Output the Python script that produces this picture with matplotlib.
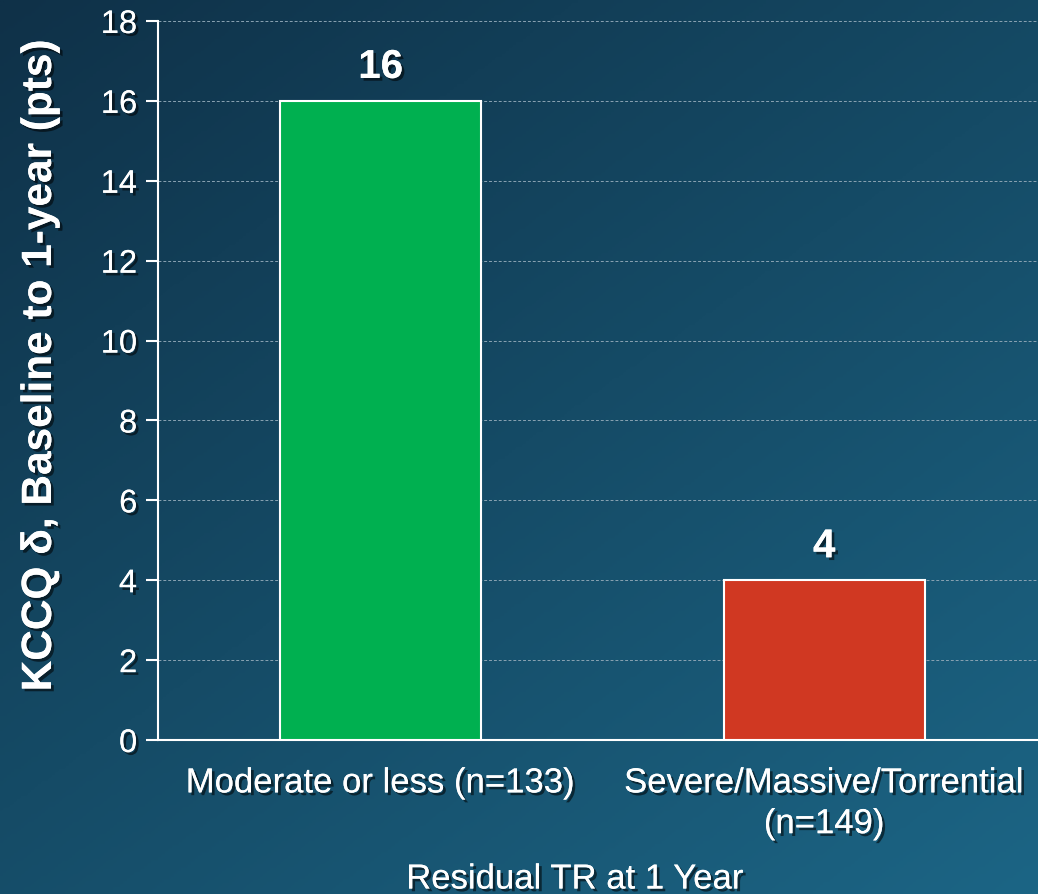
import numpy as np
import matplotlib
matplotlib.use("Agg")
import matplotlib.pyplot as plt
import matplotlib.patheffects as pe
from matplotlib.colors import LinearSegmentedColormap

categories = ["Moderate or less (n=133)", "Severe/Massive/Torrential\n(n=149)"]
values = [16, 4]
bar_colors = ["#00B050", "#D03822"]
yticks = [0, 2, 4, 6, 8, 10, 12, 14, 16, 18]
ylabel = "KCCQ δ, Baseline to 1-year (pts)"
xlabel = "Residual TR at 1 Year"

plt.rcParams['font.family'] = ['Liberation Sans', 'DejaVu Sans']

W, H = 1038, 894
fig = plt.figure(figsize=(W/100, H/100), dpi=100)

# gradient background
bg = fig.add_axes([0, 0, 1, 1], zorder=-10)
yy, xx = np.mgrid[0:1:300j, 0:1:300j]
t = 0.55 * yy + 0.45 * xx
cmap = LinearSegmentedColormap.from_list("bg", ["#0f3148", "#154b66", "#1c6585"])
bg.imshow(t, cmap=cmap, aspect='auto', extent=[0, 1, 0, 1], origin='upper', vmin=0, vmax=1)
bg.axis('off')

shadow = [pe.withSimplePatchShadow(offset=(2, -2), shadow_rgbFace='black', alpha=0.55), pe.Normal()]

x0, x1 = 158, 1038
y0, y1 = 740, 21
ax = fig.add_axes([x0/W, (H - y0)/H, (x1 - x0)/W + 0.01, (y0 - y1)/H])
ax.patch.set_alpha(0)
x = np.arange(len(categories))
bars = ax.bar(x, values, width=0.453, color=bar_colors, edgecolor='white', linewidth=1.5, zorder=3)
ax.set_xlim(-0.502, 1.482 + 0.01 * W / 443.5)
ax.set_ylim(0, 18)
ax.set_yticks(yticks)
ax.grid(axis='y', color='#8aa3b3', linestyle=(0, (3, 2)), linewidth=0.7, zorder=0)
for s in ['top', 'right']:
    ax.spines[s].set_visible(False)
for s in ['left', 'bottom']:
    ax.spines[s].set_color('white')
    ax.spines[s].set_linewidth(1.5)
ax.tick_params(axis='y', colors='white', labelsize=23.5, length=9, width=1.5, pad=6)
ax.tick_params(axis='x', length=0, colors='white', labelsize=25, pad=19)
ax.set_xticks(x)
ax.set_xticklabels(categories, linespacing=1.3)
for lbl in ax.get_yticklabels() + ax.get_xticklabels():
    lbl.set_path_effects(shadow)

for xi, v in zip(x, values):
    ax.text(xi, v + 0.85, str(v), ha='center', va='center', color='white', fontsize=29,
            fontweight='bold', path_effects=shadow)

fig.text(40/W, 1 - 365/H, ylabel, rotation=90, ha='center', va='center', color='white',
         fontsize=30.5, fontweight='bold', path_effects=shadow)
fig.text(575/W, 1 - 879/H, xlabel, ha='center', va='center', color='white', fontsize=25,
         path_effects=shadow)

fig.savefig("out.png", dpi=100)
